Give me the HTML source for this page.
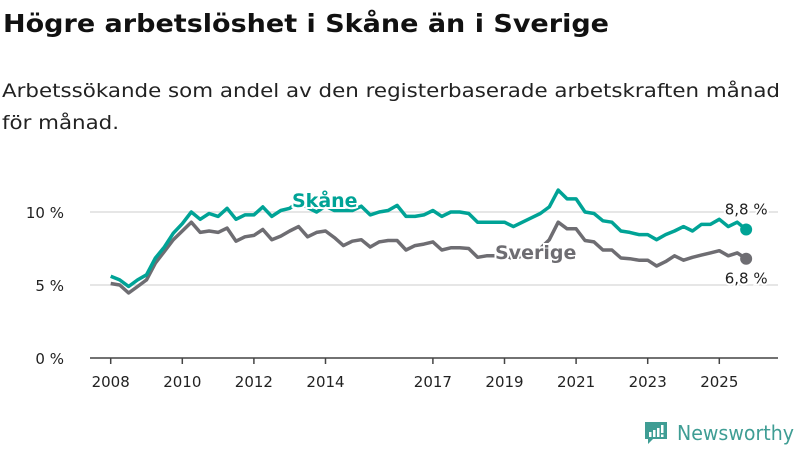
<!DOCTYPE html>
<html><head><meta charset="utf-8"><style>
html,body{margin:0;padding:0;background:#fff;width:800px;height:450px;overflow:hidden;font-family:"DejaVu Sans","Liberation Sans",sans-serif;}
</style></head><body>
<svg width="800" height="450" xmlns="http://www.w3.org/2000/svg" font-family="DejaVu Sans, Liberation Sans, sans-serif">
<text x="3" y="32" font-size="25" font-weight="bold" fill="#111" textLength="606" lengthAdjust="spacingAndGlyphs">Högre arbetslöshet i Skåne än i Sverige</text>
<text x="2" y="97" font-size="19" fill="#222" textLength="778" lengthAdjust="spacingAndGlyphs">Arbetssökande som andel av den registerbaserade arbetskraften månad</text>
<text x="2" y="129" font-size="19" fill="#222" textLength="117" lengthAdjust="spacingAndGlyphs">för månad.</text>
<g id="grid"></g><g id="axis"></g><g id="lines"></g><g id="labels"></g>
<g>
<path d="M645 422 h22 v17 h-14 l-5 5 v-5 h-3 z" fill="#3f9d94"/>
<rect x="649" y="432" width="2.5" height="5" fill="#fff"/><rect x="653" y="430" width="2.5" height="7" fill="#fff"/><rect x="657" y="428" width="2.5" height="9" fill="#fff"/><rect x="661" y="425" width="2.5" height="8" fill="#fff"/><rect x="661" y="434.5" width="2.5" height="2.5" fill="#fff"/>
<text x="677" y="440" font-size="20" fill="#3f9d94" textLength="117" lengthAdjust="spacingAndGlyphs">Newsworthy</text>
</g>
</svg>
<script>
const years = [];
for (let i = 0; i < 72; i++) years.push(2008 + i * 0.25);
const skane = [5.6,5.35,4.9,5.35,5.7,6.85,7.6,8.55,9.2,10.0,9.5,9.9,9.7,10.25,9.5,9.8,9.8,10.35,9.7,10.1,10.25,10.7,10.3,10.0,10.4,10.1,10.1,10.1,10.4,9.8,10.0,10.1,10.45,9.7,9.7,9.8,10.1,9.7,10.0,10.0,9.9,9.3,9.3,9.3,9.3,9.0,9.3,9.6,9.9,10.35,11.5,10.9,10.9,10.0,9.9,9.4,9.3,8.7,8.6,8.45,8.45,8.1,8.45,8.7,9.0,8.7,9.15,9.15,9.5,9.0,9.3,8.8];
const sverige = [5.1,5.0,4.45,4.9,5.35,6.5,7.3,8.1,8.7,9.3,8.6,8.7,8.6,8.9,8.0,8.3,8.4,8.8,8.1,8.35,8.7,9.0,8.3,8.6,8.7,8.25,7.7,8.0,8.1,7.6,7.95,8.05,8.05,7.4,7.7,7.8,7.95,7.4,7.55,7.55,7.5,6.9,7.0,7.0,7.0,6.8,7.0,7.2,7.5,8.1,9.3,8.85,8.85,8.05,7.95,7.4,7.4,6.85,6.8,6.7,6.7,6.3,6.6,7.0,6.7,6.9,7.05,7.2,7.35,7.0,7.2,6.8];
const xTicks = [2008,2010,2012,2014,2017,2019,2021,2023,2025];
const yTicks = [0,5,10];
const yTickLabels = ["0 %","5 %","10 %"];
const X = v => 110.7 + (v - 2008) * 35.8;
const Y = v => 358 - v * 14.6;
const NS = "http://www.w3.org/2000/svg";
function mk(tag, attrs, parent){const e=document.createElementNS(NS,tag);for(const k in attrs)e.setAttribute(k,attrs[k]);parent.appendChild(e);return e;}
const grid=document.getElementById('grid'),axis=document.getElementById('axis'),lines=document.getElementById('lines'),labels=document.getElementById('labels');
yTicks.forEach((t,i)=>{
  if(t>0){const g=mk('line',{x1:90,x2:778,y1:Y(t),y2:Y(t),stroke:'#ddd','stroke-width':1.5},grid);
  
  }
  const tx=mk('text',{x:64,y:Y(t)+6,'font-size':15,fill:'#222','text-anchor':'end'},axis);tx.textContent=yTickLabels[i];
  
  
});
const ax=mk('line',{x1:90,x2:778,y1:358,y2:358,stroke:'#444','stroke-width':1.5},axis);


xTicks.forEach(t=>{
  mk('line',{x1:X(t),x2:X(t),y1:358,y2:364,stroke:'#444','stroke-width':1.5},axis);
  const tx=mk('text',{x:X(t),y:387,'font-size':15,fill:'#222','text-anchor':'middle'},axis);tx.textContent=t;
  
  
});
function drawLine(vals,color,name){
  const d=vals.map((v,i)=>(i?'L':'M')+X(years[i]).toFixed(1)+' '+Y(v).toFixed(1)).join(' ');
  const p=mk('path',{d:d,fill:'none',stroke:color,'stroke-width':3.5,'stroke-linejoin':'round'},lines);
  
  
  const n=vals.length-1;
  const c=mk('circle',{cx:X(years[n]),cy:Y(vals[n]),r:6,fill:color},lines);
  
  
  return [X(years[n]),Y(vals[n])];
}
const e1=drawLine(sverige,'#6e6d72','sverige');
const e2=drawLine(skane,'#00a396','skane');
function lbl(x,y,txt,color,size,weight,name,anchor){
  const t=mk('text',{x:x,y:y,'font-size':size,'font-weight':weight,fill:color,stroke:'#fff','stroke-width':4,'paint-order':'stroke','text-anchor':anchor||'start'},labels);
  t.textContent=txt;
  
  
}
lbl(292,207,'Skåne','#00a396',19,'bold','skane-label');
lbl(495,259,'Sverige','#6e6d72',19,'bold','sverige-label');
lbl(e2[0],e2[1]-15,(skane[skane.length-1].toFixed(1)).replace('.',',')+' %','#222',15,'normal','skane-value-label','middle');
lbl(e1[0],e1[1]+25,(sverige[sverige.length-1].toFixed(1)).replace('.',',')+' %','#222',15,'normal','sverige-value-label','middle');
</script>
</body></html>
